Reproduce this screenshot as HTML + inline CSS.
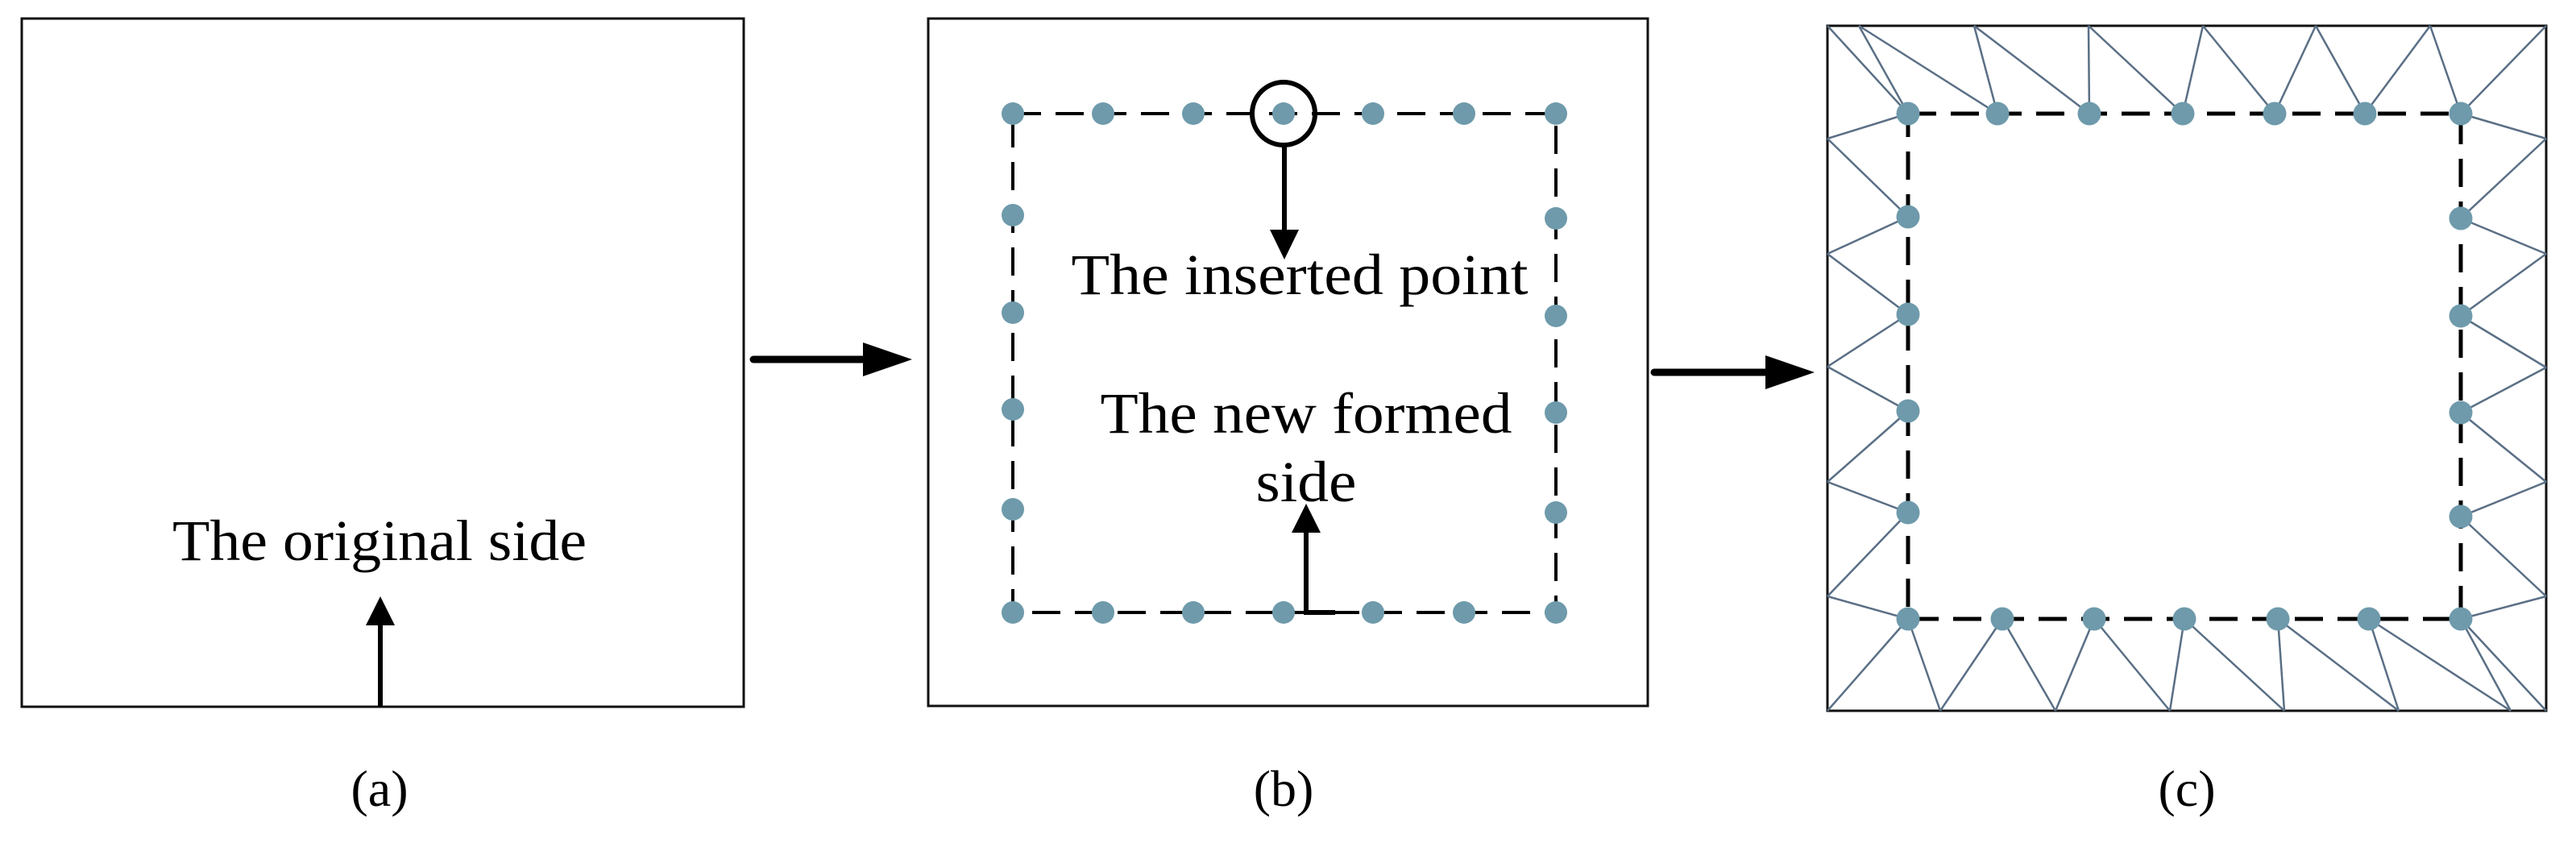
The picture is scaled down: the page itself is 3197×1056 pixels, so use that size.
<!DOCTYPE html>
<html><head><meta charset="utf-8"><style>html,body{margin:0;padding:0;background:#fff}svg{display:block}</style></head>
<body>
<svg width="3197" height="1056" viewBox="0 0 3197 1056" xmlns="http://www.w3.org/2000/svg" font-family="'Liberation Serif', serif">
<g fill="none" stroke="#111" stroke-width="3">
<rect x="27" y="23" width="896" height="854"/>
<rect x="1152" y="23" width="893" height="853"/>
<rect x="2268" y="32" width="892" height="850"/>
</g>
<!-- panel a -->
<line x1="472" y1="877" x2="472" y2="770" stroke="#000" stroke-width="6"/>
<polygon points="472,740 454,776 490,776" fill="#000"/>
<text x="471" y="695" font-size="72" text-anchor="middle" textLength="514" lengthAdjust="spacingAndGlyphs">The original side</text>
<text x="471" y="1000" font-size="64" text-anchor="middle">(a)</text>
<!-- arrows between -->
<line x1="935" y1="446" x2="1075" y2="446" stroke="#000" stroke-width="9" stroke-linecap="round"/>
<polygon points="1132,446 1071,425 1071,467" fill="#000"/>
<line x1="2053" y1="462" x2="2195" y2="462" stroke="#000" stroke-width="9" stroke-linecap="round"/>
<polygon points="2252,462 2191,441 2191,483" fill="#000"/>
<!-- panel b -->
<rect x="1257" y="141" width="674" height="619" fill="none" stroke="#000" stroke-width="4" stroke-dasharray="35 18"/>
<g fill="#6e9aab">
<circle cx="1257" cy="141" r="14"/><circle cx="1369" cy="141" r="14"/><circle cx="1481" cy="141" r="14"/><circle cx="1593" cy="141" r="14"/><circle cx="1704" cy="141" r="14"/><circle cx="1817" cy="141" r="14"/><circle cx="1931" cy="141" r="14"/>
<circle cx="1257" cy="760" r="14"/><circle cx="1369" cy="760" r="14"/><circle cx="1481" cy="760" r="14"/><circle cx="1593" cy="760" r="14"/><circle cx="1704" cy="760" r="14"/><circle cx="1817" cy="760" r="14"/><circle cx="1931" cy="760" r="14"/>
<circle cx="1257" cy="267" r="14"/><circle cx="1257" cy="388" r="14"/><circle cx="1257" cy="508" r="14"/><circle cx="1257" cy="632" r="14"/>
<circle cx="1931" cy="271" r="14"/><circle cx="1931" cy="392" r="14"/><circle cx="1931" cy="512" r="14"/><circle cx="1931" cy="636" r="14"/>
</g>
<circle cx="1593" cy="141" r="39" fill="none" stroke="#000" stroke-width="6"/>
<line x1="1594" y1="180" x2="1594" y2="292" stroke="#000" stroke-width="6"/>
<polygon points="1594,322 1576,285 1612,285" fill="#000"/>
<text x="1613" y="365" font-size="72" text-anchor="middle" textLength="567" lengthAdjust="spacingAndGlyphs">The inserted point</text>
<text x="1621" y="537" font-size="72" text-anchor="middle" textLength="511" lengthAdjust="spacingAndGlyphs">The new formed</text>
<text x="1621" y="622" font-size="72" text-anchor="middle" textLength="125" lengthAdjust="spacingAndGlyphs">side</text>
<polyline points="1621,655 1621,760 1657,760" fill="none" stroke="#000" stroke-width="6"/>
<polygon points="1621,625 1603,661 1639,661" fill="#000"/>
<text x="1593" y="1000" font-size="64" text-anchor="middle">(b)</text>
<!-- panel c mesh -->
<g stroke="#5a6f85" stroke-width="2.5" fill="none">
<line x1="2268" y1="32" x2="2368" y2="141"/><line x1="2307" y1="32" x2="2368" y2="141"/><line x1="2307" y1="32" x2="2479" y2="141"/>
<line x1="2450" y1="32" x2="2479" y2="141"/><line x1="2450" y1="32" x2="2593" y2="141"/><line x1="2592" y1="32" x2="2593" y2="141"/>
<line x1="2592" y1="32" x2="2709" y2="141"/><line x1="2734" y1="32" x2="2709" y2="141"/><line x1="2734" y1="32" x2="2823" y2="141"/>
<line x1="2874" y1="32" x2="2823" y2="141"/><line x1="2874" y1="32" x2="2935" y2="141"/><line x1="3016" y1="32" x2="2935" y2="141"/>
<line x1="3016" y1="32" x2="3054" y2="141"/><line x1="3160" y1="32" x2="3054" y2="141"/>
<line x1="2368" y1="141" x2="2268" y2="172"/><line x1="2268" y1="172" x2="2368" y2="269"/><line x1="2368" y1="269" x2="2268" y2="315"/>
<line x1="2268" y1="315" x2="2368" y2="390"/><line x1="2368" y1="390" x2="2268" y2="455"/><line x1="2268" y1="455" x2="2368" y2="510"/>
<line x1="2368" y1="510" x2="2268" y2="598"/><line x1="2268" y1="598" x2="2368" y2="636"/><line x1="2368" y1="636" x2="2268" y2="740"/>
<line x1="2268" y1="740" x2="2368" y2="768"/>
<line x1="3054" y1="141" x2="3160" y2="172"/><line x1="3160" y1="172" x2="3054" y2="271"/><line x1="3054" y1="271" x2="3160" y2="315"/>
<line x1="3160" y1="315" x2="3054" y2="392"/><line x1="3054" y1="392" x2="3160" y2="456"/><line x1="3160" y1="456" x2="3054" y2="512"/>
<line x1="3054" y1="512" x2="3160" y2="598"/><line x1="3160" y1="598" x2="3054" y2="641"/><line x1="3054" y1="641" x2="3160" y2="740"/>
<line x1="3160" y1="740" x2="3054" y2="768"/>
<line x1="2368" y1="768" x2="2268" y2="882"/><line x1="2368" y1="768" x2="2408" y2="882"/><line x1="2485" y1="768" x2="2408" y2="882"/>
<line x1="2485" y1="768" x2="2551" y2="882"/><line x1="2599" y1="768" x2="2551" y2="882"/><line x1="2599" y1="768" x2="2693" y2="882"/>
<line x1="2711" y1="768" x2="2693" y2="882"/><line x1="2711" y1="768" x2="2835" y2="882"/><line x1="2827" y1="768" x2="2835" y2="882"/>
<line x1="2827" y1="768" x2="2977" y2="882"/><line x1="2940" y1="768" x2="2977" y2="882"/><line x1="2940" y1="768" x2="3116" y2="882"/>
<line x1="3054" y1="768" x2="3116" y2="882"/><line x1="3054" y1="768" x2="3160" y2="882"/>
</g>
<rect x="2368" y="141" width="686" height="627" fill="none" stroke="#000" stroke-width="5" stroke-dasharray="35 18"/>
<g fill="#6e9aab">
<circle cx="2368" cy="141" r="14.5"/><circle cx="2479" cy="141" r="14.5"/><circle cx="2593" cy="141" r="14.5"/><circle cx="2709" cy="141" r="14.5"/><circle cx="2823" cy="141" r="14.5"/><circle cx="2935" cy="141" r="14.5"/><circle cx="3054" cy="141" r="14.5"/>
<circle cx="2368" cy="768" r="14.5"/><circle cx="2485" cy="768" r="14.5"/><circle cx="2599" cy="768" r="14.5"/><circle cx="2711" cy="768" r="14.5"/><circle cx="2827" cy="768" r="14.5"/><circle cx="2940" cy="768" r="14.5"/><circle cx="3054" cy="768" r="14.5"/>
<circle cx="2368" cy="269" r="14.5"/><circle cx="2368" cy="390" r="14.5"/><circle cx="2368" cy="510" r="14.5"/><circle cx="2368" cy="636" r="14.5"/>
<circle cx="3054" cy="271" r="14.5"/><circle cx="3054" cy="392" r="14.5"/><circle cx="3054" cy="512" r="14.5"/><circle cx="3054" cy="641" r="14.5"/>
</g>
<text x="2714" y="1000" font-size="64" text-anchor="middle">(c)</text>
</svg>
</body></html>
